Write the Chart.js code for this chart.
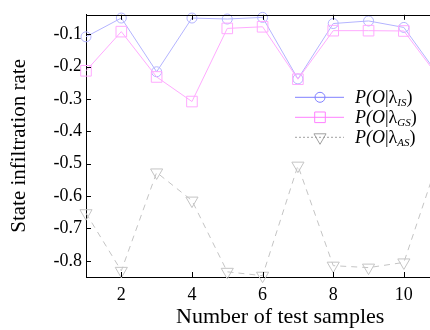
<!DOCTYPE html>
<html><head><meta charset="utf-8">
<script src="https://cdn.jsdelivr.net/npm/chart.js@4.4.0/dist/chart.umd.min.js"></script>
<style>
html,body{margin:0;padding:0;background:#fff;overflow:hidden;width:430px;height:330px;}
#wrap{width:483px;height:330px;position:relative;}
canvas{display:block;}
</style></head><body>
<div id="wrap"><canvas id="c" width="483" height="330"></canvas></div>
<script>
// ---- data ----
const samples = [1, 2, 3, 4, 5, 6, 7, 8, 9, 10, 11];
const pIS = [-0.108, -0.050, -0.216, -0.050, -0.053, -0.048, -0.238, -0.067, -0.059, -0.079, -0.23];
const pGS = [-0.213, -0.092, -0.232, -0.308, -0.082, -0.077, -0.239, -0.089, -0.089, -0.090, -0.235];
const pAS = [-0.653, -0.831, -0.527, -0.614, -0.834, -0.846, -0.506, -0.815, -0.821, -0.805, -0.48];
const xTickValues = [2, 4, 6, 8, 10];
const yTickValues = [-0.8, -0.7, -0.6, -0.5, -0.4, -0.3, -0.2, -0.1];
const seriesSubs = ['IS', 'GS', 'AS'];
const xTitle = 'Number of test samples';
const yTitle = 'State infiltration rate';

const SERIF = '"Liberation Serif", "Times New Roman", serif';
const toPts = arr => samples.map((x, i) => ({x: x, y: arr[i]}));

const styles = [
  {color: '#b4b4ff', legendColor: '#8080ff', style: 'circle', radius: 5, rotation: 0, dash: [], legendDash: []},
  {color: '#ffaaff', legendColor: '#ff80ff', style: 'rect', radius: 7.5, rotation: 0, dash: [], legendDash: []},
  {color: '#c4c4c4', legendColor: '#a0a0a0', style: 'triangle', radius: 7, rotation: 180, dash: [6, 5], legendDash: [2, 2]}
];

function drawMarker(ctx, st, color, x, y) {
  ctx.save();
  ctx.strokeStyle = color;
  ctx.lineWidth = 1;
  ctx.setLineDash([]);
  ctx.beginPath();
  if (st.style === 'circle') {
    ctx.arc(x, y, st.radius, 0, Math.PI * 2);
  } else if (st.style === 'rect') {
    const s = st.radius * Math.SQRT1_2;
    ctx.rect(x - s, y - s, 2 * s, 2 * s);
  } else {
    const r = st.radius;
    ctx.moveTo(x, y + r);
    ctx.lineTo(x - r * Math.sin(Math.PI / 3), y - r / 2);
    ctx.lineTo(x + r * Math.sin(Math.PI / 3), y - r / 2);
    ctx.closePath();
  }
  ctx.stroke();
  ctx.restore();
}

const frame = {
  id: 'frame',
  afterDatasetsDraw(chart) {
    const ctx = chart.ctx, a = chart.chartArea;
    const xs = chart.scales.x, ys = chart.scales.y;
    ctx.save();
    ctx.strokeStyle = '#000';
    ctx.lineWidth = 1;
    ctx.beginPath();
    const top = Math.round(a.top) + 0.5;
    ctx.moveTo(a.left, top); ctx.lineTo(a.right, top);
    xTickValues.forEach(v => {
      const px = Math.round(xs.getPixelForValue(v)) + 0.5;
      ctx.moveTo(px, a.bottom); ctx.lineTo(px, a.bottom - 5);
      ctx.moveTo(px, a.top); ctx.lineTo(px, a.top + 5);
    });
    yTickValues.forEach(v => {
      const py = Math.round(ys.getPixelForValue(v)) + 0.5;
      ctx.moveTo(a.left, py); ctx.lineTo(a.left + 5, py);
    });
    ctx.stroke();

    // legend
    const lx1 = a.left + 209, lx2 = a.left + 258, mx = a.left + 234, tx = a.left + 269;
    seriesSubs.forEach((sub, i) => {
      const st = styles[i];
      const y = a.top + 82 + i * 20;
      ctx.save();
      ctx.strokeStyle = st.legendColor;
      ctx.lineWidth = 1;
      ctx.setLineDash(st.legendDash);
      ctx.beginPath();
      ctx.moveTo(lx1, y + 0.5); ctx.lineTo(lx2, y + 0.5);
      ctx.stroke();
      ctx.restore();
      drawMarker(ctx, st, st.legendColor, mx, y + 0.5);
      ctx.fillStyle = '#000';
      ctx.textBaseline = 'alphabetic';
      ctx.textAlign = 'left';
      const base = y + 6;
      let x = tx;
      const parts = [
        ['P(O', 'italic 18px ' + SERIF, 0],
        ['|', '18px ' + SERIF, 0],
        ['λ', '18px ' + SERIF, 0],
        [sub, 'italic 11px ' + SERIF, 3],
        [')', '18px ' + SERIF, 0]
      ];
      parts.forEach(([t, f, dy]) => {
        ctx.font = f;
        ctx.fillText(t, x, base + dy);
        x += ctx.measureText(t).width;
      });
    });
    ctx.restore();
  }
};

const datasets = [pIS, pGS, pAS].map((arr, i) => ({
  label: 'P(O|λ' + seriesSubs[i] + ')',
  data: toPts(arr),
  borderColor: styles[i].color,
  backgroundColor: 'rgba(0,0,0,0)',
  borderWidth: 1,
  borderDash: styles[i].dash,
  pointStyle: styles[i].style,
  pointRadius: styles[i].radius,
  pointRotation: styles[i].rotation,
  pointBorderColor: styles[i].color,
  pointBackgroundColor: 'rgba(0,0,0,0)',
  pointBorderWidth: 1,
  tension: 0,
  clip: false,
  order: 3 - i
}));

new Chart(document.getElementById('c'), {
  type: 'line',
  data: {datasets},
  options: {
    responsive: false,
    animation: false,
    devicePixelRatio: 1,
    layout: {padding: {top: 12, left: 0, right: 0, bottom: 0}},
    plugins: {legend: {display: false}, tooltip: {enabled: false}},
    scales: {
      x: {
        type: 'linear', min: 1, max: 12,
        afterBuildTicks: s => { s.ticks = xTickValues.map(v => ({value: v})); },
        afterFit: s => { s.height = 53; },
        grid: {display: true, drawOnChartArea: false, drawTicks: false},
        border: {display: true, color: '#000', width: 1},
        ticks: {color: '#000', font: {family: SERIF, size: 18}, padding: 7, maxRotation: 0,
                callback: v => String(v)},
        title: {display: true, text: xTitle, color: '#000', font: {family: SERIF, size: 22}, padding: {top: 0, bottom: 0}}
      },
      y: {
        type: 'linear', min: -0.85, max: -0.04,
        afterBuildTicks: s => { s.ticks = yTickValues.map(v => ({value: v})); },
        afterFit: s => { s.width = 86; },
        grid: {display: true, drawOnChartArea: false, drawTicks: false},
        border: {display: true, color: '#000', width: 1},
        ticks: {color: '#000', font: {family: SERIF, size: 18}, padding: 4,
                callback: v => v.toFixed(1)},
        title: {display: true, text: yTitle, color: '#000', font: {family: SERIF, size: 21}, padding: {top: 7, bottom: 0}}
      }
    }
  },
  plugins: [frame]
});
</script>
</body></html>
